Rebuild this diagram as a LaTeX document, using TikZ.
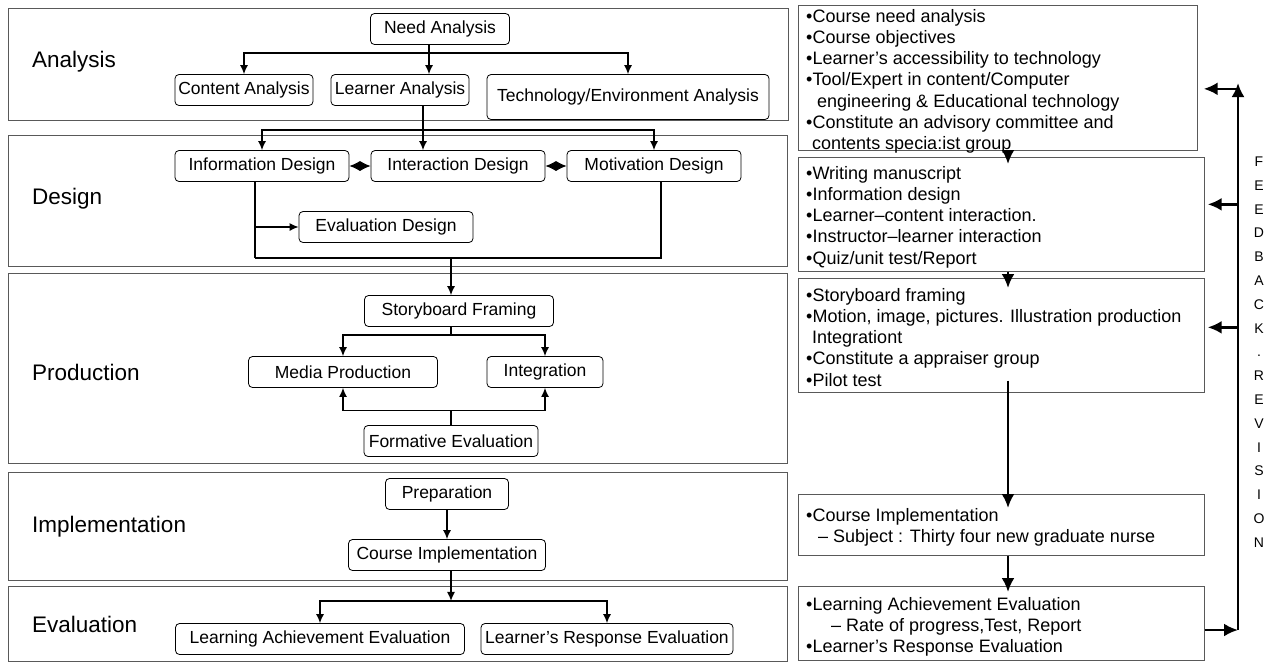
\documentclass[tikz,border=0pt]{standalone}
\usepackage{fontspec}
\setmainfont{Liberation Sans}
\usetikzlibrary{arrows.meta,calc,positioning}
\tikzset{
  stage/.style={draw=black!65, line width=0.7pt},
  stagelabel/.style={anchor=base west, inner sep=0pt, font=\fontsize{22.5}{27}\selectfont},
  task/.style={draw, rounded corners=4pt, line width=0.8pt, minimum height=31pt, inner sep=0pt, font=\fontsize{17.5}{21}\selectfont},
  link/.style={line width=1.2pt, -{Latex[length=9pt,width=8pt]}},
  plainlink/.style={line width=1.2pt},
  twoway/.style={line width=1pt, {Latex[length=10.5pt,width=10pt]}-{Latex[length=10.5pt,width=10pt]}},
  infobox/.style={draw=black!65, line width=0.7pt, anchor=north west, inner sep=0pt},
  infotext/.style={anchor=north west, align=left, inner sep=0pt, font=\fontsize{18}{21.2}\selectfont},
  flow/.style={line width=2.6pt, -{Latex[length=14pt,width=13pt]}},
  fbletters/.style={align=center, inner sep=0pt, font=\fontsize{14}{23.8}\selectfont}
}
\begin{document}
\begin{tikzpicture}[x=1pt,y=-1pt]
\useasboundingbox (0,0) rectangle (1271,662);
% stage frames
\draw[stage] (8,8) rectangle (788,120);
\draw[stage] (8,135) rectangle (787,266);
\draw[stage] (8,273) rectangle (787,463);
\draw[stage] (8,472) rectangle (787,580);
\draw[stage] (8,586) rectangle (787,661);
\node[stagelabel] (analysis) at (32,67) {Analysis};
\node[stagelabel] (design) at (32,204) {Design};
\node[stagelabel] (production) at (32,380) {Production};
\node[stagelabel] (implementation) at (32,532) {Implementation};
\node[stagelabel] (evaluation) at (32,632) {Evaluation};
\coordinate (spine) at (451,0);
% analysis
\node[task, minimum width=139pt] (need) at (440,29) {Need Analysis};
\node[task, minimum width=138pt] (content) at (244,90) {Content Analysis};
\node[task, minimum width=138pt] (learner) at (400,90) {Learner Analysis};
\node[task, minimum width=282pt, minimum height=45pt] (tech) at (628,97) {Technology/Environment Analysis};
\draw[plainlink] ($(need.south)+(-11,0)$) -- ++(0,8) coordinate (nbar);
\draw[link] (nbar) -| (content.north);
\draw[link] (nbar) -| (tech.north);
\draw[link] (nbar) -- (learner.north -| nbar);
% design
\node[task, minimum width=174pt] (info) at (262,166) {Information Design};
\node[task, minimum width=174pt] (inter) at (458,166) {Interaction Design};
\node[task, minimum width=174pt] (motiv) at (654,166) {Motivation Design};
\node[task, minimum width=174pt] (evald) at (386,227) {Evaluation Design};
\draw[plainlink] ($(learner.south)+(23,0)$) -- ++(0,24) coordinate (lbar);
\draw[link] (lbar) -| (info.north);
\draw[link] (lbar) -| (motiv.north);
\draw[link] (lbar) -- (inter.north -| lbar);
\draw[twoway] (info) -- (inter);
\draw[twoway] (inter) -- (motiv);
\draw[plainlink] ($(info.south)+(-7,0)$) coordinate (ib) -- ++(0,76) coordinate (dbar);
\draw[link] (ib |- evald) -- (evald.west);
\draw[plainlink] (dbar) -| ($(motiv.south)+(7,0)$);
% production
\node[task, minimum width=189pt] (story) at (459,311) {Storyboard Framing};
\node[task, minimum width=189pt] (media) at (343,372) {Media Production};
\node[task, minimum width=116pt] (integ) at (545,372) {Integration};
\node[task, minimum width=174pt] (formative) at (451,441) {Formative Evaluation};
\draw[link] (dbar -| spine) -- (story.north -| spine);
\draw[plainlink] (story.south -| spine) -- ++(0,8) coordinate (sbar);
\draw[link] (sbar) -| (media.north);
\draw[link] (sbar) -| (integ.north);
\draw[plainlink] (formative.north) -- ++(0,-15) coordinate (fbar);
\draw[link] (fbar) -| (media.south);
\draw[link] (fbar) -| (integ.south);
% implementation
\node[task, minimum width=123pt] (prep) at (447,494) {Preparation};
\node[task, minimum width=197pt] (courseimpl) at (447,555) {Course Implementation};
\draw[link] (prep) -- (courseimpl);
% evaluation
\node[task, minimum width=289pt] (lae) at (320,639) {Learning Achievement Evaluation};
\node[task, minimum width=252pt] (lre) at (607,639) {Learner’s Response Evaluation};
\draw[link] (courseimpl.south -| spine) -- ++(0,30) coordinate (ebar);
\draw[link] (ebar) -| (lae.north);
\draw[link] (ebar) -| (lre.north);
% right column
\node[infobox, minimum width=399pt, minimum height=145pt] (b1) at (798,5) {};
\node[infobox, minimum width=406pt, minimum height=114pt] (b2) at (798,157) {};
\node[infobox, minimum width=406pt, minimum height=114pt] (b3) at (798,278) {};
\node[infobox, minimum width=406pt, minimum height=61pt] (b4) at (798,494) {};
\node[infobox, minimum width=406pt, minimum height=74pt] (b5) at (798,586) {};
\node[infotext] (t1) at (806,9) {•Course need analysis\\
  •Course objectives\\
  •Learner’s accessibility to technology\\
  •Tool/Expert in content/Computer\\
  \hspace*{11pt}engineering \& Educational technology\\
  •Constitute an advisory committee and\\
  \hspace*{6pt}contents specia:ist group};
\node[infotext] (t2) at (806,166) {•Writing manuscript\\
  •Information design\\
  •Learner–content interaction.\\
  •Instructor–learner interaction\\
  •Quiz/unit test/Report};
\node[infotext] (t3) at (806,288) {•Storyboard framing\\
  •Motion, image, pictures. Illustration production\\
  \hspace*{6pt}Integrationt\\
  •Constitute a appraiser group\\
  •Pilot test};
\node[infotext] (t4) at (806,508) {•Course Implementation\\
  \hspace*{12pt}– Subject : Thirty four new graduate nurse};
\node[infotext] (t5) at (806,597) {•Learning Achievement Evaluation\\
  \hspace*{25pt}– Rate of progress,Test, Report\\
  •Learner’s Response Evaluation};
\coordinate (fx) at (1008,0);
\draw[flow] (b1.south -| fx) -- ($(b2.north -| fx)+(0,7)$);
\draw[flow] (b2.south -| fx) -- ($(b3.north -| fx)+(0,10)$);
\draw[flow] ($(b3.south -| fx)+(0,-12)$) -- ($(b4.north -| fx)+(0,14)$);
\draw[flow] (b4.south -| fx) -- ($(b5.north -| fx)+(0,6)$);
% feedback loop
\coordinate (fbtop) at (1238,83);
\coordinate (fbbot) at (1238,630);
\draw[flow] (b5.east |- fbbot) -- (fbbot);
\draw[flow] (fbbot) -- (fbtop);
\draw[flow] ([yshift=-11pt]b1.east -| fbtop) -- ([xshift=6pt,yshift=-11pt]b1.east);
\draw[flow] ([yshift=10pt]b2.east -| fbtop) -- ([xshift=3pt,yshift=10pt]b2.east);
\draw[flow] ([yshift=8pt]b3.east -| fbtop) -- ([xshift=3pt,yshift=8pt]b3.east);
\node[fbletters] (fbword) at (1259,352) {F\\E\\E\\D\\B\\A\\C\\K\\.\\R\\E\\V\\I\\S\\I\\O\\N};
\end{tikzpicture}
\end{document}
